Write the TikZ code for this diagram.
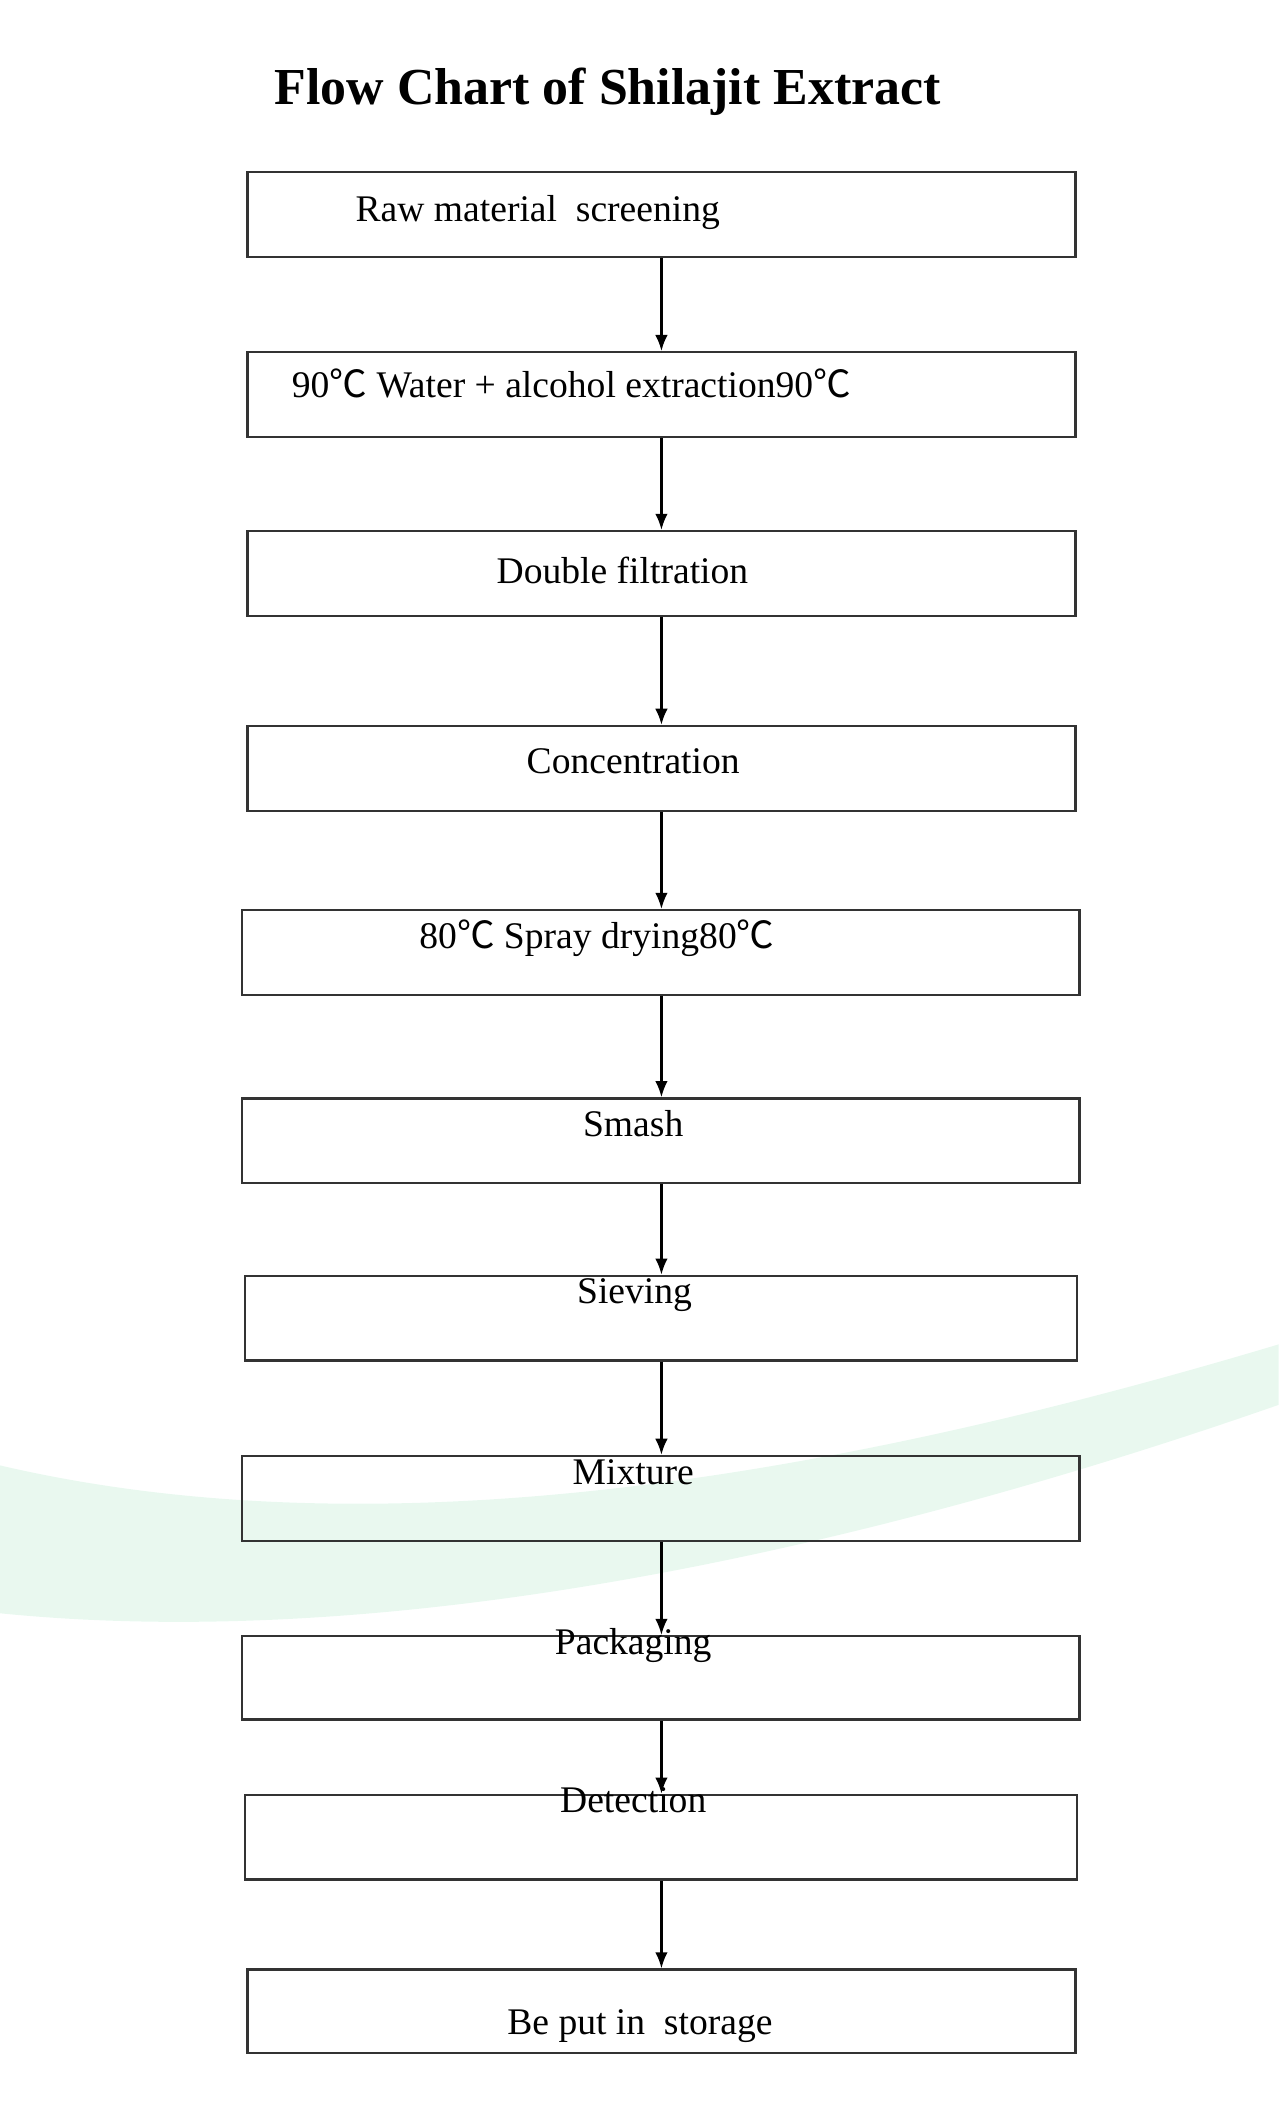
\documentclass[tikz,border=0pt]{standalone}
\usepackage{fontspec}
\setmainfont{Liberation Serif}
\newfontfamily\cjk{Noto Sans CJK SC}
\newcommand{\dgc}{{\cjk ℃}}
\begin{document}
\begin{tikzpicture}[x=0.0264cm,y=-0.0264cm,
  box/.style={draw=black!80,line width=1.3pt,inner sep=0pt},
  lab/.style={font=\fontsize{21}{24}\selectfont,inner sep=0pt},
  arr/.style={-{Latex[length=9pt,width=7pt]},line width=1.2pt}]
\usetikzlibrary{arrows.meta}
\useasboundingbox (0,0) rectangle (951,1568);
\fill[green!40!teal!25,opacity=0.35] (0,1090) .. controls (300,1160) and (650,1090) .. (951,1000) -- (951,1045) .. controls (650,1150) and (300,1230) .. (0,1200) -- cycle;
\node[font=\bfseries\fontsize{29}{34}\selectfont] (t) at (452,68) {Flow Chart of Shilajit Extract};
\foreach \n/\xa/\xb/\ya/\yb in {1/184/800/128/191,2/184/800/262/325,3/184/800/395/458,4/184/800/540/603,5/180/803/677/740,6/180/803/817/880,7/182/801/949/1012,8/180/803/1083/1146,9/180/803/1217/1279,10/182/801/1335/1398,11/184/800/1465/1527}
  \node[box,minimum width={(\xb-\xa)*0.0264cm},minimum height={(\yb-\ya)*0.0264cm}] (b\n) at ({(\xa+\xb)/2},{(\ya+\yb)/2}) {};
\node[lab] (l1) at (400,158) {Raw material\ \ screening};
\node[lab] (l2) at (425,285) {90\dgc{} Water + alcohol extraction90\dgc};
\node[lab] (l3) at (463,424) {Double filtration};
\node[lab] (l4) at (471,566) {Concentration};
\node[lab] (l5) at (444,698) {80\dgc{} Spray drying80\dgc};
\node[lab] (l6) at (471,836) {Smash};
\node[lab] (l7) at (472,963) {Sieving};
\node[lab] (l8) at (471,1095) {Mixture};
\node[lab] (l9) at (471,1224) {Packaging};
\node[lab] (l10) at (471,1339) {Detection};
\node[lab] (l11) at (476,1507) {Be put in\ \ storage};
\foreach \a/\b in {1/2,2/3,3/4,4/5,5/6,6/7,7/8,8/9,9/10,10/11}
  \draw[arr] (b\a.south -| 492,0) -- (b\b.north -| 492,0);
\end{tikzpicture}
\end{document}
